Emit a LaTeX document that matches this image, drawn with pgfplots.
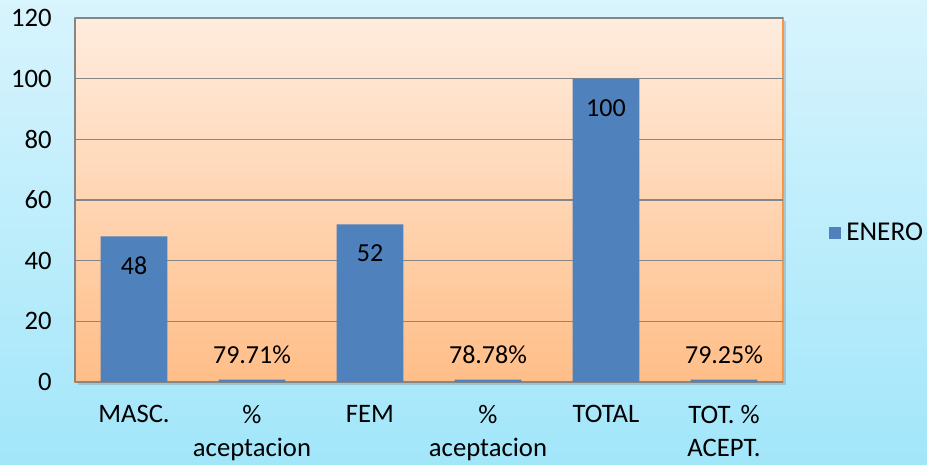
\documentclass[border=0pt]{standalone}
\usepackage{pgfplots}
\pgfplotsset{compat=1.18}
\usepackage{fontspec}
\setmainfont{Carlito}
\usetikzlibrary{shadows}
\definecolor{barblue}{HTML}{4F81BD}
\definecolor{bgtop}{HTML}{D8F4FD}
\definecolor{bgbot}{HTML}{A2E6FA}
\definecolor{patop}{HTML}{FFECDE}
\definecolor{pabot}{HTML}{FFBE88}
\definecolor{paedge}{HTML}{F79646}
\definecolor{gridgray}{HTML}{868686}
\begin{document}
\begin{tikzpicture}
\useasboundingbox (0,0) rectangle (695.25pt,348pt);
\shade[top color=bgtop, bottom color=bgbot] (0,0) rectangle (695.25pt,348pt);
\begin{axis}[
  at={(56.25pt,61.5pt)}, anchor=south west,
  scale only axis, width=531pt, height=273pt,
  ybar, bar width=50pt, bar shift=0pt,
  xmin=-0.5, xmax=5.5, ymin=0, ymax=120,
  ytick={0,20,...,120},
  xtick={0,...,5},
  xticklabels={{MASC.},{\%\\aceptacion},{FEM},{\%\\aceptacion},{TOTAL},{TOT. \%\\ACEPT.}},
  xticklabel style={align=center, font=\fontsize{20}{24.75}\selectfont, yshift=-14pt},
  yticklabel style={font=\fontsize{20}{23}\selectfont, xshift=-14pt},
  /pgf/number format/assume math mode=true,
  major tick length=0pt,
  ymajorgrids, grid style={gridgray, line width=0.8pt},
  axis line style={gridgray, line width=0.8pt},
  axis x line*=bottom, axis y line*=left,
  axis background/.style={top color=patop, bottom color=pabot, draw=paedge, line width=1pt, drop shadow={opacity=0.35, shadow xshift=2pt, shadow yshift=-2pt}},
  nodes near coords, point meta=explicit symbolic,
  nodes near coords style={font=\fontsize{19.5}{23}\selectfont, black, anchor=center},
  legend style={at={(1.059,0.41)}, anchor=west, draw=none, fill=none, font=\fontsize{20.4}{24}\selectfont},
  legend image code/.code={\fill[barblue] (0pt,-4.5pt) rectangle (9pt,4.5pt);},
  legend cell align=left,
  legend style={/tikz/every even column/.append style={column sep=0pt}, nodes={inner xsep=4pt}},
]
\addplot[fill=barblue, draw=none, every node near coord/.append style={yshift=-22pt}]
  coordinates {(0,48) [48] (2,52) [52] (4,100) [100]};
\addlegendentry{ENERO}
\addplot[fill=barblue, draw=none, forget plot, every node near coord/.append style={yshift=19pt}]
  coordinates {(1,0.7971) [79.71\%] (3,0.7878) [78.78\%] (5,0.7925) [79.25\%]};
\end{axis}
\end{tikzpicture}
\end{document}
